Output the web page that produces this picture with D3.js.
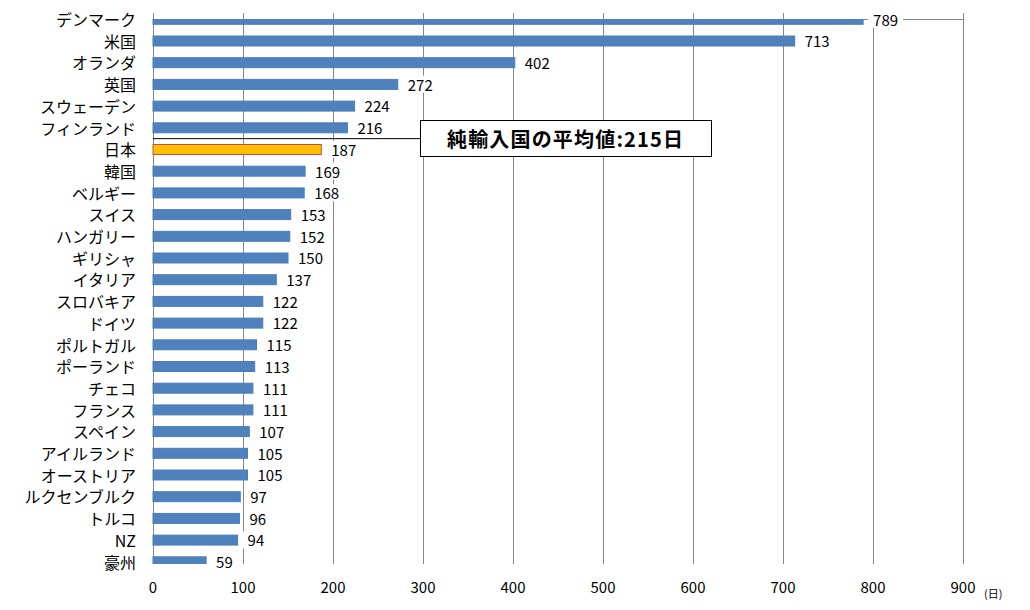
<!DOCTYPE html>
<html><head><meta charset="utf-8">
<script src="https://cdn.jsdelivr.net/npm/d3@7"></script>
<style>body{margin:0;background:#fff}</style>
</head><body>
<svg id="c" width="1030" height="610"></svg>
<script>
const countries = ["デンマーク","米国","オランダ","英国","スウェーデン","フィンランド","日本","韓国","ベルギー","スイス","ハンガリー","ギリシャ","イタリア","スロバキア","ドイツ","ポルトガル","ポーランド","チェコ","フランス","スペイン","アイルランド","オーストリア","ルクセンブルク","トルコ","NZ","豪州"];
const days = [789,713,402,272,224,216,187,169,168,153,152,150,137,122,122,115,113,111,111,107,105,105,97,96,94,59];
const xTicks = [0,100,200,300,400,500,600,700,800,900];
const highlight = "日本";
const calloutText = "純輸入国の平均値:215日";
const unitText = "(日)";

const font = "'Noto Sans CJK JP','Noto Sans',sans-serif";
const svg = d3.select("#c");
const x = d3.scaleLinear().domain([0,900]).range([153,963]);
const y = d3.scaleBand().domain(countries).range([8.45,572.65]).paddingInner(0.54).paddingOuter(0.27);

svg.append("defs").append("clipPath").attr("id","pc").append("rect")
  .attr("x",150).attr("y",19).attr("width",820).attr("height",545);

// gridlines
svg.append("g").selectAll("line").data(xTicks).join("line")
  .attr("x1",d=>x(d)).attr("x2",d=>x(d)).attr("y1",13).attr("y2",563.5)
  .attr("stroke","#868686").attr("stroke-width",1).attr("shape-rendering","crispEdges");
// top line
svg.append("line").attr("x1",x(0)).attr("x2",x(900)).attr("y1",19.5).attr("y2",19.5)
  .attr("stroke","#868686").attr("stroke-width",1);

// bars
svg.append("g").attr("clip-path","url(#pc)").selectAll("rect").data(countries).join("rect")
  .attr("x",x(0)).attr("y",d=>y(d)).attr("height",y.bandwidth())
  .attr("width",(d,i)=>x(days[i])-x(0))
  .attr("fill",d=>d===highlight?"#FFC000":"#4F81BD")
  .attr("stroke",d=>d===highlight?"#C0504D":"#4A7EBB").attr("stroke-width",1);

// data labels with white backgrounds
const lg = svg.append("g");
countries.forEach((c,i)=>{
  const cy = y(c)+y.bandwidth()/2;
  const t = lg.append("text").attr("x",x(days[i])+10).attr("y",cy).attr("dy","0.42em")
    .attr("font-family",font).attr("font-size",15).attr("fill","#000").text(days[i]);
  const bb = t.node().getBBox();
  lg.insert("rect","text").attr("x",bb.x-5).attr("y",bb.y+2).attr("width",bb.width+10).attr("height",bb.height-4).attr("fill","#fff");
});

// category labels
svg.append("g").selectAll("text").data(countries).join("text")
  .attr("x",136).attr("y",d=>y(d)+y.bandwidth()/2).attr("dy","0.42em")
  .attr("text-anchor","end").attr("font-family",font).attr("font-size",16).attr("fill","#000")
  .text(d=>d);

// x tick labels
svg.append("g").selectAll("text").data(xTicks).join("text")
  .attr("x",d=>x(d)).attr("y",593).attr("text-anchor","middle")
  .attr("font-family",font).attr("font-size",15).attr("fill","#000").text(d=>d);
svg.append("text").attr("x",984).attr("y",598).attr("font-family",font).attr("font-size",11)
  .attr("fill","#000").text(unitText);

// callout
const cy0 = (y("フィンランド")+y.bandwidth()+y("日本"))/2;
svg.append("line").attr("x1",x(0)).attr("x2",421).attr("y1",cy0).attr("y2",cy0).attr("stroke","#000").attr("stroke-width",1);
svg.append("rect").attr("x",420.5).attr("y",120.5).attr("width",291).attr("height",36)
  .attr("fill","#fff").attr("stroke","#000").attr("stroke-width",1);
svg.append("text").attr("x",447).attr("y",cy0).attr("dy","0.4em")
  .attr("font-family",font).attr("font-weight","bold").attr("font-size",20).attr("fill","#000")
  .attr("textLength",236).attr("lengthAdjust","spacing").text(calloutText);
</script>
</body></html>
